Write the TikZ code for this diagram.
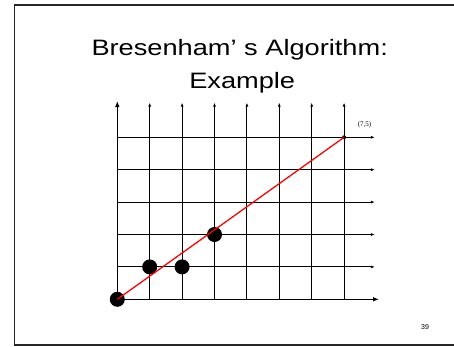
\documentclass[tikz,border=0pt]{standalone}
\usepackage{fontspec}
\setmainfont{Liberation Sans}
\newfontfamily\serifface{Liberation Serif}
\usetikzlibrary{arrows.meta}
\begin{document}
\begin{tikzpicture}[x=1pt,y=1pt,
  frame/.style={draw=black!85, line width=1.6pt},
  gridline/.style={draw=black, line width=1pt, -{Latex[length=4pt,width=3pt]}},
  axisline/.style={draw=black, line width=1.4pt, -{Latex[length=6pt,width=4.6pt]}},
  bigdot/.style={circle, fill=black, inner sep=0pt, minimum size=15pt},
  smalldot/.style={circle, fill=black, inner sep=0pt, minimum size=4pt},
  redline/.style={draw=red, line width=1.3pt},
  title/.style={font=\fontsize{22.3}{30}\selectfont, anchor=base, inner sep=0pt}
]
\useasboundingbox (0,0) rectangle (454,346);
\fill[white] (0,0) rectangle (454,346);
\draw[frame] (470,341.2) -- (14.5,341.2) -- (14.5,1) -- (470,1);

\node[title] (t1) at (239.7,290.7) {\scalebox{1.22}[1]{Bresenham’ s Algorithm:}};
\node[title] (t2) at (242.2,257.3) {\scalebox{1.22}[1]{Example}};

\begin{scope}[shift={(117.3,46.7)}, x=32.4pt, y=32.4pt]
  \coordinate (o) at (0,0);
  % vertical grid lines
  \foreach \i in {1,...,7} {
    \coordinate (vb\i) at (\i,0);
    \coordinate (vt\i) at (\i,6.07);
    \draw[gridline] (vb\i) -- (vt\i);
  }
  % horizontal grid lines
  \foreach \j in {1,...,5} {
    \coordinate (hl\j) at (0,\j);
    \coordinate (hr\j) at (7.95,\j);
    \draw[gridline] (hl\j) -- (hr\j);
  }
  \coordinate (xe) at (8.08,0);
  \coordinate (ye) at (0,6.12);
  \draw[axisline] (o) -- (xe);
  \draw[axisline] (o) -- (ye);

  \node[bigdot] (p0) at (0,0) {};
  \node[bigdot] (p1) at (1,1) {};
  \node[bigdot] (p2) at (2,1) {};
  \node[bigdot] (p3) at (3,2) {};
  \node[smalldot] (p7) at (7,5) {};
  \draw[redline] (p0.center) -- (p7.center);
  \node[font=\serifface\fontsize{7}{8}\selectfont] (lab) at (7.63,5.38) {(7,5)};
\end{scope}

\node[font=\fontsize{7}{8}\selectfont] (num) at (425,19) {39};
\end{tikzpicture}
\end{document}
